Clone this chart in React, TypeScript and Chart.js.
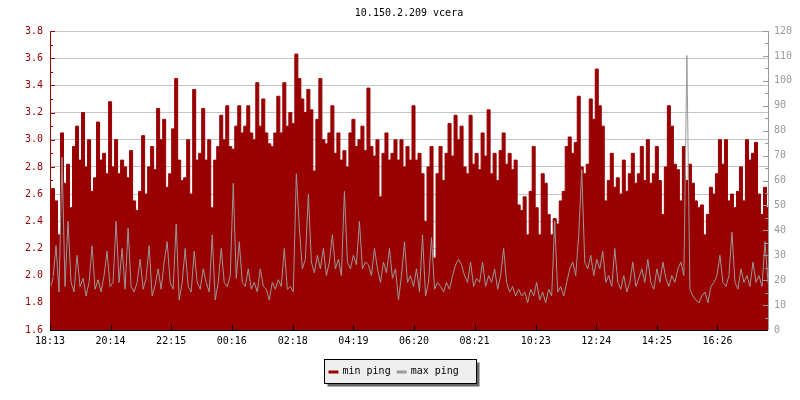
import React, { useEffect, useRef } from "react";
import { Chart, registerables } from "chart.js";

Chart.register(...registerables);

const chartTitle = "10.150.2.209 vcera";
const xTickLabels = ["18:13", "20:14", "22:15", "00:16", "02:18", "04:19", "06:20", "08:21", "10:23", "12:24", "14:25", "16:26"];
const sampleMinutes = 6;
const seriesNames = ["min ping", "max ping"];
const seriesColors = ["#990000", "#999999"];
const leftRange = [1.6, 3.8];
const rightRange = [0, 120];

const minPing = [
  2.42, 2.64, 2.55, 2.3, 3.05, 2.68, 2.82, 2.5, 2.95, 3.1,
  2.85, 3.2, 2.8, 3.0, 2.62, 2.72, 3.13, 2.85, 2.9, 2.75,
  3.28, 2.8, 3.0, 2.75, 2.85, 2.8, 2.72, 2.92, 2.55, 2.48,
  2.62, 3.03, 2.6, 2.8, 2.95, 2.78, 3.23, 3.0, 3.15, 2.65,
  2.75, 3.08, 3.45, 2.85, 2.7, 2.72, 3.0, 2.6, 3.37, 2.85,
  2.9, 3.23, 2.85, 3.0, 2.5, 2.85, 2.95, 3.18, 3.0, 3.25,
  2.95, 2.93, 3.1, 3.25, 3.05, 3.1, 3.25, 3.05, 3.0, 3.42,
  3.1, 3.3, 3.05, 2.97, 2.95, 3.05, 3.32, 3.05, 3.42, 3.1,
  3.2, 3.12, 3.63, 3.45, 3.3, 3.2, 3.37, 3.22, 2.77, 3.15,
  3.45, 3.0, 2.97, 3.05, 3.25, 2.9, 3.05, 2.85, 2.92, 2.8,
  3.05, 3.15, 2.95, 3.0, 3.1, 2.92, 3.38, 2.95, 2.88, 3.0,
  2.58, 2.9, 3.05, 2.85, 2.9, 3.0, 2.85, 3.0, 2.8, 2.95,
  2.85, 3.25, 2.85, 2.9, 2.75, 2.4, 2.8, 2.95, 2.13, 2.75,
  2.95, 2.7, 2.9, 3.12, 2.88, 3.18, 3.0, 3.1, 2.8, 2.75,
  3.18, 2.82, 2.9, 2.78, 3.05, 2.88, 3.22, 2.75, 2.9, 2.7,
  2.92, 3.05, 2.82, 2.9, 2.78, 2.85, 2.52, 2.48, 2.58, 2.3,
  2.62, 2.95, 2.5, 2.3, 2.75, 2.68, 2.45, 2.3, 2.42, 2.38,
  2.55, 2.62, 2.95, 3.02, 2.9, 2.98, 3.32, 2.8, 2.75, 2.82,
  3.3, 3.15, 3.52, 3.25, 3.1, 2.55, 2.7, 2.9, 2.65, 2.72,
  2.6, 2.85, 2.62, 2.75, 2.9, 2.68, 2.75, 2.95, 2.7, 3.0,
  2.68, 2.75, 2.95, 2.7, 2.45, 2.8, 3.25, 3.1, 2.82, 2.78,
  2.55, 2.95, 2.7, 2.82, 2.68, 2.55, 2.5, 2.52, 2.3, 2.45,
  2.65, 2.6, 2.75, 3.0, 2.82, 3.0, 2.55, 2.6, 2.5, 2.62,
  2.8, 2.55, 3.0, 2.85, 2.9, 2.98, 2.6, 2.45, 2.65, 2.5,
];

const maxPing = [
  1.9, 1.98, 2.22, 1.88, 2.87, 1.92, 2.4, 1.95, 1.88, 2.15,
  1.92, 1.98, 1.85, 1.95, 2.22, 1.9, 1.97, 1.88, 2.0, 2.18,
  1.92, 1.95, 2.4, 1.95, 2.2, 1.9, 2.35, 1.92, 1.88, 1.95,
  2.12, 1.9, 1.98, 2.22, 1.85, 1.93, 2.05, 1.9, 2.1, 2.25,
  1.95, 1.9, 2.38, 1.82, 1.95, 2.2, 1.92, 1.88, 2.18, 1.95,
  1.9, 2.05, 1.95, 1.88, 2.3, 1.82, 1.95, 2.2, 1.95, 1.92,
  2.0, 2.68, 1.98, 2.25, 1.95, 1.92, 2.05, 1.9, 1.95, 1.88,
  2.05, 1.92, 1.9, 1.82, 1.95, 1.9, 1.97, 1.92, 2.2, 1.9,
  1.92, 1.88, 2.75, 2.35, 2.05, 2.12, 2.6, 2.1, 2.02, 2.15,
  2.05, 2.2, 2.0, 2.1, 2.3, 2.05, 2.12, 2.0, 2.62, 2.1,
  2.05, 2.15, 2.08, 2.4, 2.05, 2.1, 2.08, 2.0, 2.2, 2.05,
  1.95, 2.1, 2.02, 2.2, 1.98, 2.05, 1.82, 2.0, 2.25, 1.95,
  2.0, 1.92, 2.05, 1.88, 2.3, 1.85, 1.95, 2.28, 1.9, 1.95,
  1.92, 1.88, 1.95, 1.9, 2.0, 2.08, 2.12, 2.08, 2.0, 1.95,
  2.1, 1.92, 1.98, 1.95, 2.1, 1.92, 2.0, 1.95, 2.05, 1.9,
  2.0, 2.2, 1.95, 1.88, 1.92, 1.85, 1.9, 1.85, 1.88, 1.8,
  1.9, 1.85, 1.95, 1.82, 1.88, 1.8, 1.9, 1.85, 2.4, 1.88,
  1.92, 1.85, 1.95, 2.05, 2.1, 2.0, 2.3, 2.78, 2.1, 2.05,
  2.15, 2.0, 2.12, 2.05, 2.18, 1.95, 2.0, 1.92, 2.2, 1.95,
  1.9, 2.0, 1.88, 1.95, 2.1, 1.92, 1.98, 2.05, 1.95, 2.12,
  1.95, 1.9, 2.05, 1.95, 2.1, 1.98, 1.92, 2.0, 1.95, 2.05,
  2.1, 2.0, 3.62, 1.9, 1.85, 1.82, 1.8, 1.85, 1.88, 1.8,
  1.92, 1.95, 2.0, 2.15, 1.95, 1.92, 2.0, 2.32, 1.95, 1.9,
  2.05, 1.95, 2.0, 1.92, 2.1, 1.95, 2.0, 1.92, 2.25, 1.95,
];

const FONT = "'DejaVu Sans Mono', monospace";

function toMinutes(label: string): number {
  const [h, m] = label.split(":").map(Number);
  return h * 60 + m;
}

const tickValues = xTickLabels.map((l) => {
  const d = toMinutes(l) - toMinutes(xTickLabels[0]);
  return d < 0 ? d + 1440 : d;
});

const decorPlugin = {
  id: "decor",
  afterDatasetsDraw(chart: any) {
    const ctx = chart.ctx;
    const a = chart.chartArea;
    const y = chart.scales.y;
    const y1 = chart.scales.y1;
    const x = chart.scales.x;
    ctx.save();
    ctx.lineWidth = 1;
    ctx.strokeStyle = seriesColors[0];
    ctx.beginPath();
    ctx.moveTo(a.left + 0.5, a.top);
    ctx.lineTo(a.left + 0.5, a.bottom);
    for (let k = 0; k <= 22; k++) {
      const v = leftRange[0] + k * 0.1;
      const py = Math.round(y.getPixelForValue(v)) + 0.5;
      const len = k % 2 === 0 ? 5 : 3;
      ctx.moveTo(a.left, py);
      ctx.lineTo(a.left + len, py);
    }
    ctx.stroke();
    ctx.strokeStyle = seriesColors[1];
    ctx.beginPath();
    ctx.moveTo(a.right + 0.5, a.top);
    ctx.lineTo(a.right + 0.5, a.bottom);
    for (let k = 0; k <= 24; k++) {
      const v = rightRange[0] + k * 5;
      const py = Math.round(y1.getPixelForValue(v)) + 0.5;
      const len = k % 2 === 0 ? 5 : 3;
      ctx.moveTo(a.right, py);
      ctx.lineTo(a.right - len, py);
    }
    ctx.stroke();
    ctx.strokeStyle = "#000000";
    ctx.beginPath();
    ctx.moveTo(a.left, a.bottom + 0.5);
    ctx.lineTo(a.right, a.bottom + 0.5);
    tickValues.forEach((v) => {
      const px = Math.round(x.getPixelForValue(v)) + 0.5;
      ctx.moveTo(px, a.bottom);
      ctx.lineTo(px, a.bottom - 5);
    });
    ctx.stroke();
    ctx.restore();
  },
  afterDraw(chart: any) {
    const ctx = chart.ctx;
    const a = chart.chartArea;
    ctx.save();
    ctx.font = "10px " + FONT;
    ctx.fillStyle = "#000";
    ctx.textAlign = "center";
    ctx.textBaseline = "middle";
    ctx.fillText(chartTitle, (a.left + a.right) / 2, 13);

    const bw = 152;
    const bh = 24;
    const bx = Math.round(chart.width / 2 - bw / 2) + 0.5;
    const by = 359.5;
    ctx.fillStyle = "#666666";
    ctx.fillRect(bx + 3, by + 3, bw, bh);
    ctx.fillStyle = "#eeeeee";
    ctx.fillRect(bx, by, bw, bh);
    ctx.strokeStyle = "#000";
    ctx.lineWidth = 1;
    ctx.strokeRect(bx, by, bw, bh);
    ctx.textAlign = "left";
    const cy = by + bh / 2;
    let cx = bx + 4;
    chart.data.datasets.forEach((ds: any, i: number) => {
      ctx.fillStyle = seriesColors[i];
      ctx.fillRect(cx, cy - 1, 10, 3);
      ctx.fillStyle = "#000";
      ctx.fillText(seriesNames[i], cx + 14, cy);
      cx += 14 + ctx.measureText(seriesNames[i]).width + 6;
    });
    ctx.restore();
  },
};

export default function App() {
  const ref = useRef<HTMLCanvasElement | null>(null);
  useEffect(() => {
    if (!ref.current) return;
    const minData = minPing.map((v, i) => ({ x: i * sampleMinutes, y: v }));
    const maxData = maxPing.map((v, i) => ({ x: i * sampleMinutes, y: v }));
    const chart = new Chart(ref.current, {
      type: "line",
      data: {
        datasets: [
          {
            label: seriesNames[0],
            data: minData,
            borderColor: seriesColors[0],
            backgroundColor: seriesColors[0],
            borderWidth: 1,
            pointRadius: 0,
            stepped: "middle",
            fill: "start",
            order: 1,
            yAxisID: "y",
          },
          {
            label: seriesNames[1],
            data: maxData,
            borderColor: seriesColors[1],
            backgroundColor: seriesColors[1],
            borderWidth: 1,
            pointRadius: 0,
            tension: 0,
            fill: false,
            order: 0,
            yAxisID: "y",
          },
        ],
      },
      options: {
        responsive: false,
        animation: false,
        layout: { padding: { top: 31, left: 0, right: 0, bottom: 0 } },
        plugins: {
          legend: { display: false },
          title: { display: false },
          tooltip: { enabled: false },
        },
        scales: {
          x: {
            type: "linear",
            min: 0,
            max: (minPing.length - 1) * sampleMinutes,
            grid: { display: false, drawTicks: false },
            border: { display: false },
            afterBuildTicks: (s: any) => {
              s.ticks = tickValues.map((v) => ({ value: v }));
            },
            afterFit: (s: any) => {
              s.height = 70;
            },
            ticks: {
              padding: 5,
              color: "#000",
              font: { family: FONT, size: 10 },
              maxRotation: 0,
              autoSkip: false,
              callback: (_v: any, i: number) => xTickLabels[i],
            },
          },
          y: {
            position: "left",
            min: leftRange[0],
            max: leftRange[1],
            grid: { color: "#c4c4c4", drawTicks: false },
            border: { display: false },
            afterFit: (s: any) => {
              s.width = 50;
            },
            ticks: {
              stepSize: 0.2,
              padding: 7,
              color: seriesColors[0],
              font: { family: FONT, size: 10 },
              callback: (v: any) => Number(v).toFixed(1),
            },
          },
          y1: {
            position: "right",
            min: rightRange[0],
            max: rightRange[1],
            grid: { display: false, drawTicks: false },
            border: { display: false },
            afterFit: (s: any) => {
              s.width = 32;
            },
            ticks: {
              stepSize: 10,
              padding: 6,
              color: seriesColors[1],
              font: { family: FONT, size: 10 },
            },
          },
        },
      },
      plugins: [decorPlugin],
    } as any);
    return () => chart.destroy();
  }, []);
  return (
    <div style={{ position: "absolute", left: 0, top: 0, width: 800, height: 400, background: "#fff" }}>
      <canvas ref={ref} width={800} height={400} />
    </div>
  );
}
